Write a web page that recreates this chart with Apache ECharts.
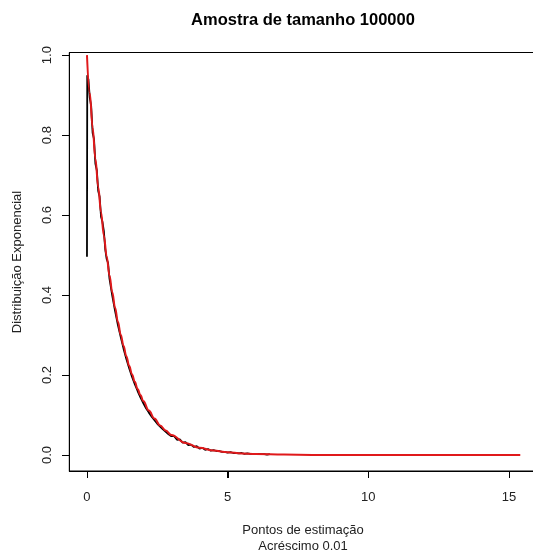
<!DOCTYPE html>
<html>
<head>
<meta charset="utf-8">
<script src="https://cdn.jsdelivr.net/npm/echarts@6/dist/echarts.min.js"></script>
<style>
  html, body { margin: 0; padding: 0; background: #fff; }
  #chart { width: 533px; height: 556px; }
</style>
</head>
<body>
<div id="chart"></div>
<script>
// Estimated density from a sample of 100000 draws (step 0.01 grid, shown coarser here)
const estX = [0, 0.01, 0.05, 0.1, 0.15, 0.2, 0.25, 0.3, 0.35, 0.4, 0.45, 0.5, 0.55, 0.6, 0.65, 0.7, 0.75, 0.8, 0.85, 0.9, 0.95,
  1.0, 1.05, 1.1, 1.15, 1.2, 1.25, 1.3, 1.35, 1.4, 1.45, 1.5, 1.55, 1.6, 1.65, 1.7, 1.75, 1.8, 1.85, 1.9, 1.95,
  2.0, 2.05, 2.1, 2.15, 2.2, 2.25, 2.3, 2.35, 2.4, 2.45, 2.5, 2.55, 2.6, 2.65, 2.7, 2.75, 2.8, 2.85, 2.9, 2.95,
  3.0, 3.1, 3.2, 3.3, 3.4, 3.5, 3.6, 3.7, 3.8, 3.9, 4.0, 4.1, 4.2, 4.3, 4.4, 4.5, 4.6, 4.7, 4.8, 4.9,
  5.0, 5.1, 5.2, 5.3, 5.4, 5.5, 5.6, 5.7, 5.8, 5.9, 6.0, 6.1, 6.2, 6.3, 6.4, 6.5];
const estY = [0.496, 0.950, 0.940, 0.893, 0.872, 0.806, 0.790, 0.728, 0.712, 0.660, 0.646, 0.596, 0.583, 0.560, 0.514, 0.490, 0.480, 0.441, 0.436, 0.398, 0.394,
  0.360, 0.357, 0.325, 0.324, 0.295, 0.299, 0.266, 0.264, 0.240, 0.241, 0.217, 0.218, 0.196, 0.199, 0.177, 0.180, 0.160, 0.163, 0.144, 0.147,
  0.130, 0.134, 0.117, 0.121, 0.106, 0.109, 0.096, 0.099, 0.087, 0.090, 0.078, 0.081, 0.071, 0.074, 0.064, 0.067, 0.058, 0.061, 0.052, 0.055,
  0.047, 0.047, 0.038, 0.039, 0.031, 0.032, 0.025, 0.026, 0.020, 0.022, 0.016, 0.018, 0.013, 0.015, 0.011, 0.012, 0.010, 0.010, 0.008, 0.008,
  0.006, 0.007, 0.005, 0.005, 0.004, 0.005, 0.003, 0.004, 0.003, 0.003, 0.002, 0.003, 0.002, 0.002, 0.001, 0.002];

// Theoretical exponential density
const theoX = [0, 0.1, 0.2, 0.3, 0.4, 0.5, 0.6, 0.7, 0.8, 0.9, 1.0, 1.1, 1.2, 1.3, 1.4, 1.5, 1.6, 1.7, 1.8, 1.9, 2.0,
  2.2, 2.4, 2.6, 2.8, 3.0, 3.5, 4.0, 4.5, 5.0, 5.5, 6.0, 7.0, 8.0, 10.0, 15.4];
const theoY = [1.000, 0.905, 0.819, 0.741, 0.670, 0.607, 0.549, 0.497, 0.449, 0.407, 0.368, 0.333, 0.301, 0.273, 0.247, 0.223, 0.202, 0.183, 0.165, 0.150, 0.135,
  0.111, 0.091, 0.074, 0.061, 0.050, 0.030, 0.018, 0.011, 0.007, 0.004, 0.0025, 0.001, 0.0003, 0, 0];

const xTicks = [0, 5, 10, 15];
const yTicks = [0, 0.2, 0.4, 0.6, 0.8, 1.0];

const titleText = 'Amostra de tamanho 100000';
const xTitle = 'Pontos de estimação\nAcréscimo 0.01';
const yTitle = 'Distribuição Exponencial';

const pair = (xs, ys) => xs.map((x, i) => [x, ys[i]]);

const font = '"Liberation Sans", Arial, sans-serif';
const X_MIN = -0.628, X_MAX = 16.03, Y_MIN = -0.04, Y_MAX = 1.0066;
const TICK_LEN = 7;
const chart = echarts.init(document.getElementById('chart'), null, { renderer: 'canvas' });

const textGraphic = [
  {
    type: 'text', id: 'title',
    style: { text: titleText, x: 303, y: 20, align: 'center', verticalAlign: 'middle',
      font: 'bold 16.5px ' + font, fill: '#000' }
  },
  {
    type: 'text', id: 'xtitle',
    style: { text: xTitle, x: 303, y: 538, align: 'center', verticalAlign: 'middle',
      font: '13px ' + font, lineHeight: 16, fill: '#222' }
  },
  {
    type: 'text', id: 'ytitle', x: 17, y: 262, rotation: Math.PI / 2,
    style: { text: yTitle, x: 0, y: 0, align: 'center', verticalAlign: 'middle',
      font: '13px ' + font, fill: '#222' }
  }
];

chart.setOption({
  animation: false,
  backgroundColor: '#ffffff',
  grid: {
    left: 69.3, top: 52.5, width: 468.7, height: 418.5,
    show: true, borderColor: '#000', borderWidth: 1, backgroundColor: 'transparent',
    containLabel: false, outerBoundsMode: 'none'
  },
  xAxis: {
    type: 'value', min: X_MIN, max: X_MAX, position: 'bottom',
    axisLine: { show: true, onZero: false, lineStyle: { color: '#000', width: 1 } },
    splitLine: { show: false },
    axisTick: { show: true, inside: false, length: TICK_LEN, customValues: xTicks,
      lineStyle: { color: '#000', width: 1 } },
    axisLabel: {
      customValues: xTicks, margin: 20, color: '#222',
      fontFamily: font, fontSize: 13,
      formatter: v => String(v)
    }
  },
  yAxis: {
    type: 'value', min: Y_MIN, max: Y_MAX, position: 'left',
    axisLine: { show: true, onZero: false, lineStyle: { color: '#000', width: 1 } },
    splitLine: { show: false },
    axisTick: { show: true, inside: false, length: TICK_LEN, customValues: yTicks,
      lineStyle: { color: '#000', width: 1 } },
    axisLabel: {
      customValues: yTicks, margin: 15, rotate: 90, color: '#222',
      fontFamily: font, fontSize: 13,
      formatter: v => v.toFixed(1)
    }
  },
  series: [
    {
      type: 'line', data: pair(estX, estY), showSymbol: false, symbol: 'none',
      lineStyle: { color: '#000', width: 1.8 }, z: 2
    },
    {
      type: 'line', data: pair(theoX, theoY), showSymbol: false, symbol: 'none',
      smooth: 0.4, smoothMonotone: 'x',
      lineStyle: { color: '#e0191b', width: 2 }, z: 3
    }
  ],
  graphic: textGraphic
});

// Tick marks as small filled bars just outside the frame, placed through the axis scales
try {
  const corner = chart.convertToPixel({ xAxisIndex: 0, yAxisIndex: 0 }, [X_MIN, Y_MIN]);
  const tickGraphic = [];
  xTicks.forEach((v, i) => {
    const p = chart.convertToPixel({ xAxisIndex: 0, yAxisIndex: 0 }, [v, Y_MIN]);
    tickGraphic.push({ type: 'rect', id: 'xt' + i, z: 100, silent: true,
      shape: { x: Math.round(p[0]), y: Math.round(corner[1]), width: 1, height: TICK_LEN },
      style: { fill: '#000' } });
  });
  yTicks.forEach((v, i) => {
    const p = chart.convertToPixel({ xAxisIndex: 0, yAxisIndex: 0 }, [X_MIN, v]);
    tickGraphic.push({ type: 'rect', id: 'yt' + i, z: 100, silent: true,
      shape: { x: Math.round(corner[0]) - TICK_LEN, y: Math.round(p[1]), width: TICK_LEN, height: 1 },
      style: { fill: '#000' } });
  });
  chart.setOption({ graphic: { elements: textGraphic.concat(tickGraphic) } });
} catch (e) {
  console.error(e);
}
</script>
</body>
</html>
